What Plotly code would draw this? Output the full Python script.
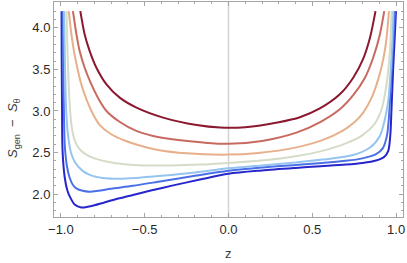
import plotly.graph_objects as go

# ---- data ----
z_c1 = [-0.996, -0.995, -0.993, -0.990, -0.977, -0.962, -0.948, -0.918, -0.878, -0.84, -0.80, -0.74, -0.65, -0.57, -0.47, -0.33, -0.17, 0.0, 0.2, 0.4, 0.55, 0.7, 0.8, 0.88, 0.93, 0.953, 0.965, 0.972, 0.982, 0.992, 0.999]
s_c1 = [4.20, 3.60, 3.00, 2.52, 2.20, 2.05, 1.976, 1.876, 1.84, 1.848, 1.866, 1.90, 1.95, 1.99, 2.04, 2.105, 2.175, 2.245, 2.285, 2.315, 2.335, 2.355, 2.375, 2.405, 2.45, 2.52, 2.70, 3.00, 3.50, 3.90, 4.20]

z_c2 = [-0.989, -0.986, -0.982, -0.977, -0.965, -0.948, -0.928, -0.908, -0.87, -0.83, -0.78, -0.70, -0.57, -0.4, -0.2, 0.0, 0.2, 0.4, 0.56, 0.7, 0.8, 0.88, 0.92, 0.945, 0.958, 0.968, 0.98, 0.993]
s_c2 = [4.20, 3.60, 3.00, 2.60, 2.35, 2.20, 2.11, 2.07, 2.04, 2.03, 2.04, 2.065, 2.10, 2.155, 2.22, 2.28, 2.32, 2.35, 2.375, 2.40, 2.43, 2.48, 2.55, 2.70, 2.95, 3.30, 3.75, 4.20]

z_c3 = [-0.981, -0.976, -0.968, -0.958, -0.94, -0.915, -0.87, -0.82, -0.75, -0.65, -0.55, -0.4, -0.2, 0.0, 0.2, 0.4, 0.56, 0.744, 0.844, 0.903, 0.933, 0.953, 0.968, 0.977, 0.983]
s_c3 = [4.20, 3.60, 3.00, 2.72, 2.50, 2.38, 2.28, 2.225, 2.195, 2.185, 2.195, 2.22, 2.26, 2.31, 2.345, 2.38, 2.415, 2.47, 2.56, 2.70, 2.90, 3.12, 3.50, 3.85, 4.20]

z_c4 = [-0.967, -0.961, -0.954, -0.945, -0.933, -0.918, -0.895, -0.86, -0.80, -0.72, -0.62, -0.5, -0.35, -0.17, 0.0, 0.227, 0.4, 0.56, 0.70, 0.80, 0.87, 0.913, 0.943, 0.963, 0.973]
s_c4 = [4.20, 3.75, 3.35, 3.00, 2.78, 2.65, 2.56, 2.49, 2.43, 2.39, 2.36, 2.345, 2.345, 2.355, 2.375, 2.41, 2.455, 2.52, 2.61, 2.71, 2.84, 3.02, 3.32, 3.72, 4.20]

z_c5 = [-0.953, -0.937, -0.922, -0.902, -0.878, -0.844, -0.808, -0.768, -0.70, -0.62, -0.53, -0.42, -0.25, 0.0, 0.177, 0.376, 0.56, 0.68, 0.754, 0.804, 0.854, 0.893, 0.923, 0.943, 0.957]
s_c5 = [4.20, 3.92, 3.72, 3.52, 3.32, 3.12, 2.96, 2.83, 2.72, 2.645, 2.585, 2.53, 2.49, 2.475, 2.495, 2.55, 2.65, 2.76, 2.87, 2.98, 3.16, 3.38, 3.62, 3.88, 4.20]

z_c6 = [-0.928, -0.907, -0.888, -0.858, -0.818, -0.768, -0.728, -0.65, -0.55, -0.45, -0.3, -0.15, 0.0, 0.2, 0.405, 0.55, 0.664, 0.744, 0.814, 0.863, 0.903, 0.929]
s_c6 = [4.20, 3.92, 3.72, 3.52, 3.32, 3.12, 3.00, 2.87, 2.76, 2.70, 2.65, 2.62, 2.605, 2.64, 2.74, 2.87, 3.02, 3.19, 3.40, 3.64, 3.92, 4.20]

z_c7 = [-0.884, -0.858, -0.828, -0.788, -0.728, -0.649, -0.549, -0.39, -0.19, -0.05, 0.1, 0.3, 0.426, 0.545, 0.664, 0.744, 0.804, 0.844, 0.877]
s_c7 = [4.20, 3.92, 3.72, 3.52, 3.32, 3.16, 3.04, 2.92, 2.83, 2.80, 2.805, 2.865, 2.925, 3.03, 3.20, 3.40, 3.63, 3.88, 4.20]

series_z = [z_c1, z_c2, z_c3, z_c4, z_c5, z_c6, z_c7]
series_s = [s_c1, s_c2, s_c3, s_c4, s_c5, s_c6, s_c7]
colors = ["rgb(38,38,204)", "rgb(74,112,232)", "rgb(150,196,240)", "rgb(212,220,200)",
          "rgb(232,176,138)", "rgb(200,106,96)", "rgb(138,24,46)"]

x_ticks = [-1.0, -0.5, 0.0, 0.5, 1.0]
y_ticks = [2.0, 2.5, 3.0, 3.5, 4.0]

fig = go.Figure()
for zz, ss, col in zip(series_z, series_s, colors):
    fig.add_trace(go.Scatter(x=zz, y=ss, mode="lines",
                             line=dict(color=col, width=2, shape="spline", smoothing=0.8),
                             showlegend=False, hoverinfo="skip", cliponaxis=True))

fig.add_shape(type="line", xref="x", yref="y domain", x0=0, x1=0, y0=0, y1=1,
              line=dict(color="rgb(210,210,210)", width=1.5), layer="below")

frame = "rgb(165,165,165)"
axis_common = dict(showgrid=False, zeroline=False, showline=True, linecolor=frame, linewidth=1,
                   mirror="ticks", ticks="inside", ticklen=4, tickcolor=frame, tickwidth=1,
                   tickfont=dict(size=13, color="rgb(40,40,40)"), tickformat=".1f",
                   automargin=False)

fig.update_layout(
    width=407, height=263,
    margin=dict(l=54, r=4, t=2, b=46, autoexpand=False),
    paper_bgcolor="white", plot_bgcolor="white",
    font=dict(family="Liberation Sans, Arial, sans-serif", size=13, color="rgb(40,40,40)"),
    xaxis=dict(range=[-1.041, 1.041], tickvals=x_ticks,
               minor=dict(ticks="inside", dtick=0.1, ticklen=2, tickcolor=frame, tick0=0),
               **axis_common),
    yaxis=dict(range=[1.725, 4.31], tickvals=y_ticks,
               minor=dict(ticks="inside", dtick=0.1, ticklen=2, tickcolor=frame, tick0=0),
               **axis_common),
    annotations=[
        dict(text="z", xref="paper", yref="paper", x=0.5, y=(263 - 46 - 253) / 215.0,
             showarrow=False, xanchor="center", yanchor="middle",
             font=dict(size=13, color="rgb(60,60,60)")),
        dict(text="<i>S</i><sub>gen</sub>  −  <i>S</i><sub>θ</sub>", xref="paper", yref="paper",
             x=(13 - 54) / 349.0, y=(217 - 128) / 215.0, textangle=-90,
             showarrow=False, xanchor="center", yanchor="middle",
             font=dict(size=13, color="rgb(60,60,60)")),
    ],
)

fig.write_html("out.html", config={"displayModeBar": False},
               post_script="document.body.style.margin='0px';document.body.style.padding='0px';")
